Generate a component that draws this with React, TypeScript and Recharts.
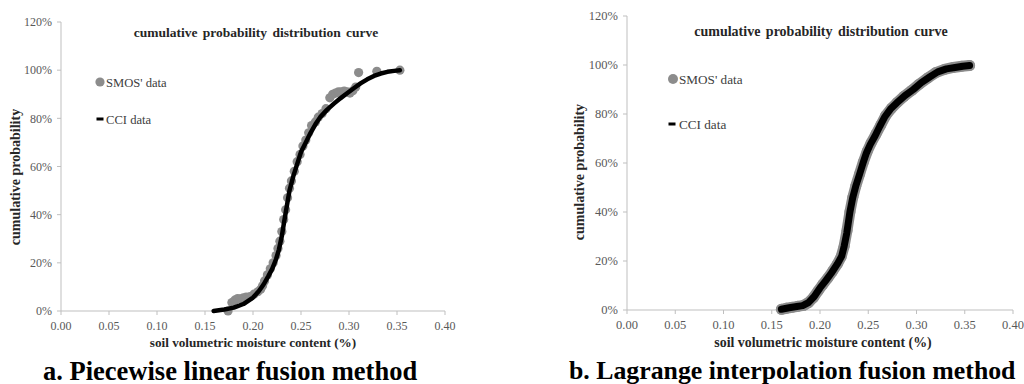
import { ScatterChart, Scatter, XAxis, YAxis } from 'recharts';

// axis ticks (x in volumetric fraction, y in percent)
const xTicks = [0, 0.05, 0.1, 0.15, 0.2, 0.25, 0.3, 0.35, 0.4];
const yTicks = [0, 20, 40, 60, 80, 100, 120];

// a. piecewise linear fusion
const leftCciX = [0.159, 0.17, 0.18, 0.19, 0.2, 0.206, 0.211, 0.216, 0.22, 0.224, 0.227, 0.23, 0.232, 0.235, 0.238, 0.242, 0.246, 0.25, 0.255, 0.26, 0.265, 0.27, 0.277, 0.284, 0.291, 0.298, 0.305, 0.312, 0.319, 0.326, 0.333, 0.34, 0.347, 0.353];
const leftCciY = [0, 0.6, 1.4, 2.9, 5.6, 8.2, 11, 14.5, 17.5, 21.5, 25.5, 31, 36, 43, 50, 56, 61, 66, 70, 74, 77.5, 80.5, 83.5, 86, 88.3, 90.4, 92.5, 94.5, 96.2, 97.6, 98.6, 99.3, 99.7, 100];
const leftSmosX = [0.174, 0.178, 0.181, 0.184, 0.187, 0.19, 0.193, 0.197, 0.201, 0.205, 0.208, 0.21, 0.212, 0.215, 0.218, 0.221, 0.224, 0.226, 0.228, 0.23, 0.232, 0.234, 0.236, 0.238, 0.24, 0.243, 0.246, 0.249, 0.252, 0.255, 0.258, 0.261, 0.265, 0.268, 0.272, 0.276, 0.28, 0.283, 0.286, 0.289, 0.292, 0.295, 0.298, 0.301, 0.304, 0.307, 0.31, 0.329, 0.353];
const leftSmosY = [0, 3.5, 4.5, 5.2, 5, 5.5, 5.8, 6, 7, 8, 9, 10.5, 12.5, 15, 17.5, 20, 23, 26, 29, 33, 38, 42, 47, 51, 54, 58, 62, 65, 68.5, 71, 74, 77, 78.5, 80.5, 82, 84, 88.5, 90, 90.5, 91, 91, 91.3, 91, 90.5, 91.5, 93, 99, 99.5, 100];

// b. Lagrange interpolation fusion
const rightCciX = [0.16, 0.168, 0.176, 0.182, 0.188, 0.194, 0.2, 0.206, 0.212, 0.218, 0.2225, 0.225, 0.2277, 0.231, 0.234, 0.237, 0.2415, 0.245, 0.248, 0.252, 0.257, 0.262, 0.2674, 0.273, 0.2795, 0.288, 0.2967, 0.305, 0.314, 0.322, 0.331, 0.34, 0.348, 0.355];
const rightCciY = [0.3, 0.9, 1.4, 1.8, 3, 5.5, 9, 12, 15.2, 18.8, 22, 26, 31.3, 40, 46, 50.5, 56, 60.5, 64, 67.5, 71, 75, 79, 82, 84.5, 87.5, 90, 92.8, 95.2, 97.2, 98.4, 99, 99.5, 99.8];
const rightSmosX = [0.16, 0.165, 0.171, 0.177, 0.183, 0.188, 0.193, 0.198, 0.203, 0.208, 0.213, 0.218, 0.222, 0.225, 0.228, 0.231, 0.234, 0.237, 0.241, 0.245, 0.249, 0.253, 0.258, 0.263, 0.268, 0.274, 0.28, 0.287, 0.295, 0.303, 0.312, 0.32, 0.329, 0.338, 0.347, 0.355];
const rightSmosY = [0.3, 0.7, 1.1, 1.5, 1.9, 3, 5, 7.8, 10.5, 13, 15.8, 18.8, 21.8, 26, 32.5, 40, 46, 50.5, 55.5, 60.5, 64.8, 68.2, 71.8, 75.5, 79.3, 82.3, 84.7, 87.2, 89.6, 92.2, 94.8, 96.9, 98.2, 99, 99.5, 99.8];

const zip = (xs: number[], ys: number[]) => xs.map((x, i) => ({ x, y: ys[i] }));

const SERIF = "'Liberation Serif', 'Times New Roman', serif";
const AXIS = '#bfbfbf';
const GRAY = '#8c8c8c';

interface PanelProps {
  width: number;
  height: number;
  top: number;
  right: number;
  yWidth: number;
  tickSize: number;
  cci: { x: number; y: number }[];
  smos: { x: number; y: number }[];
  dotR: number;
  smosLine?: number;
  cciWidth: number;
}

function Panel({ width, height, top, right, yWidth, tickSize, cci, smos, dotR, smosLine, cciWidth }: PanelProps) {
  const tickStyle = { fill: '#595959', fontSize: tickSize, fontFamily: SERIF, style: { fontFamily: SERIF } };
  return (
    <ScatterChart width={width} height={height} margin={{ top, right, bottom: 0, left: 0 }} style={{ fontFamily: SERIF }}>
      <XAxis
        type="number"
        dataKey="x"
        domain={[0, 0.4]}
        ticks={xTicks}
        tickFormatter={(v: number) => v.toFixed(2)}
        height={40}
        stroke={AXIS}
        tick={tickStyle}
        tickSize={4}
        tickMargin={6}
        allowDataOverflow
      />
      <YAxis
        type="number"
        dataKey="y"
        domain={[0, 120]}
        ticks={yTicks}
        tickFormatter={(v: number) => `${v}%`}
        width={yWidth}
        stroke={AXIS}
        tick={tickStyle}
        tickSize={4}
        tickMargin={5}
      />
      <Scatter
        name="SMOS' data"
        data={smos}
        fill={GRAY}
        line={smosLine ? { stroke: GRAY, strokeWidth: smosLine, strokeLinecap: 'round', strokeLinejoin: 'round' } : false}
        shape={(p: any) => <circle cx={p.cx} cy={p.cy} r={dotR} fill={GRAY} />}
        isAnimationActive={false}
      />
      <Scatter
        name="CCI data"
        data={cci}
        fill="#000"
        line={{ stroke: '#000', strokeWidth: cciWidth, strokeLinecap: 'round', strokeLinejoin: 'round' }}
        shape={() => <g />}
        isAnimationActive={false}
      />
    </ScatterChart>
  );
}

export default function App() {
  return (
    <div style={{ position: 'absolute', left: 0, top: 0, width: 1024, height: 384, background: '#fff', overflow: 'hidden', fontFamily: SERIF }}>
      <div style={{ position: 'absolute', left: 0, top: 0 }}>
        <Panel width={460} height={351} top={22} right={15} yWidth={61} tickSize={12}
          cci={zip(leftCciX, leftCciY)} smos={zip(leftSmosX, leftSmosY)} dotR={4.6} cciWidth={4.5} />
      </div>
      <div style={{ position: 'absolute', left: 520, top: 0 }}>
        <Panel width={504} height={350} top={16} right={11} yWidth={107} tickSize={12.5}
          cci={zip(rightCciX, rightCciY)} smos={zip(rightSmosX, rightSmosY)} dotR={5.5} smosLine={11} cciWidth={7} />
      </div>
      <svg width={1024} height={384} style={{ position: 'absolute', left: 0, top: 0, pointerEvents: 'none' }} fontFamily={SERIF}>
        {/* left panel texts */}
        <text x={256} y={36.5} textAnchor="middle" fontSize={13.5} fontWeight="bold" wordSpacing={2} fill="#262626">cumulative probability distribution curve</text>
        <circle cx={100} cy={82} r={4.6} fill={GRAY} />
        <text x={106} y={86.5} fontSize={12.6} fill="#404040">SMOS' data</text>
        <rect x={96.5} y={117.5} width={7} height={3} fill="#000" />
        <text x={106} y={124} fontSize={12.6} fill="#404040">CCI data</text>
        <text x={253} y={346.5} textAnchor="middle" fontSize={13.2} fontWeight="bold" fill="#262626">soil volumetric moisture content (%)</text>
        <text x={19.5} y={177} textAnchor="middle" fontSize={14} fontWeight="bold" fill="#262626" transform="rotate(-90, 19.5, 177)">cumulative probability</text>
        <text x={43} y={379.5} fontSize={26.5} fontWeight="bold" fill="#000">a. Piecewise linear fusion method</text>

        {/* right panel texts */}
        <text x={821} y={35.5} textAnchor="middle" fontSize={14} fontWeight="bold" wordSpacing={2} fill="#262626">cumulative probability distribution curve</text>
        <circle cx={673} cy={79} r={5} fill={GRAY} />
        <text x={679} y={84} fontSize={13.2} fill="#404040">SMOS' data</text>
        <rect x={668.5} y={122.5} width={7} height={3} fill="#000" />
        <text x={679} y={128.5} fontSize={13.2} fill="#404040">CCI data</text>
        <text x={823} y={346.5} textAnchor="middle" fontSize={13.9} fontWeight="bold" fill="#262626">soil volumetric moisture content (%)</text>
        <text x={583.5} y={172} textAnchor="middle" fontSize={14} fontWeight="bold" fill="#262626" transform="rotate(-90, 583.5, 172)">cumulative probability</text>
        <text x={569} y={379} fontSize={25.8} fontWeight="bold" fill="#000">b. Lagrange interpolation fusion method</text>
      </svg>
    </div>
  );
}
